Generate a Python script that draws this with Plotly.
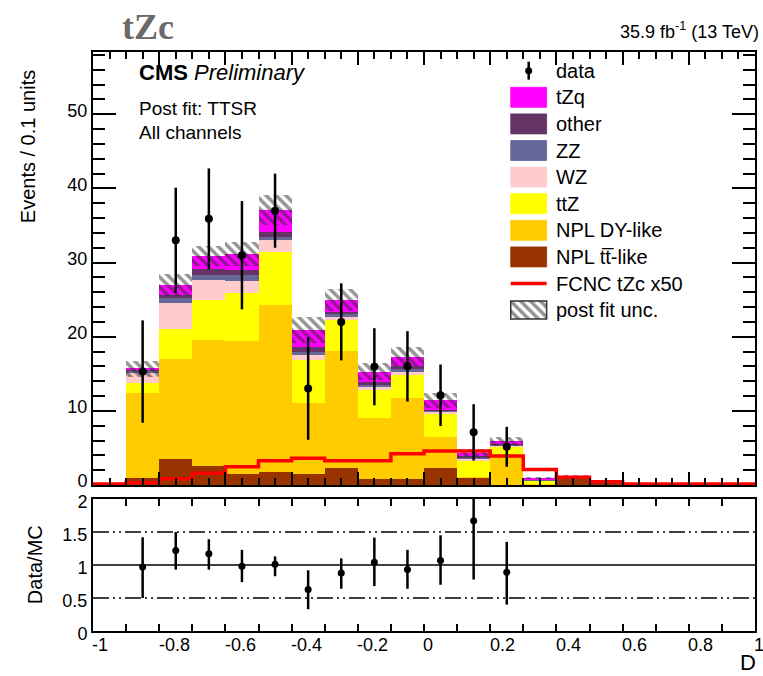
import numpy as np
import plotly.graph_objects as go

# ---------------- data ----------------
bin_edges = [-1.0, -0.9, -0.8, -0.7, -0.6, -0.5, -0.4, -0.3, -0.2, -0.1, 0.0,
             0.1, 0.2, 0.3, 0.4, 0.5, 0.6, 0.7, 0.8, 0.9, 1.0]
bin_centers = [-0.95, -0.85, -0.75, -0.65, -0.55, -0.45, -0.35, -0.25, -0.15, -0.05,
               0.05, 0.15, 0.25, 0.35, 0.45, 0.55, 0.65, 0.75, 0.85, 0.95]

npl_tt = [0, 1.0, 3.45, 2.56, 1.5, 1.8, 1.5, 2.3, 0.8, 0.8, 2.25, 1.0, 0, 0, 0.9, 0.3, 0, 0, 0, 0]
npl_dy = [0, 11.4, 13.55, 16.94, 17.9, 22.5, 9.6, 15.8, 8.2, 11.0, 4.25, 0.1, 4.05, 0.1, 0, 0, 0, 0, 0, 0]
ttz = [0, 1.3, 4.1, 5.4, 6.5, 7.1, 5.75, 4.2, 3.8, 3.0, 3.15, 2.27, 1.15, 0.45, 0.05, 0, 0, 0, 0, 0]
wz = [0, 1.35, 3.4, 2.7, 1.6, 1.6, 0.65, 0.4, 0.4, 0.5, 0.25, 0.23, 0.1, 0.1, 0, 0, 0, 0, 0, 0]
zz = [0, 0.35, 0.7, 0.7, 0.8, 0.5, 0.5, 0.3, 0.3, 0.3, 0.1, 0.15, 0.1, 0.05, 0, 0, 0, 0, 0, 0]
other = [0, 0.2, 0.4, 0.9, 0.7, 0.6, 0.6, 0.35, 0.4, 0.4, 0.1, 0.15, 0.1, 0.05, 0.1, 0, 0, 0, 0, 0]
tzq = [0, 0.05, 1.35, 1.7, 2.2, 3.0, 2.3, 1.65, 1.4, 1.3, 1.35, 0.4, 0.4, 0.15, 0, 0, 0, 0, 0, 0]
post_fit_unc = [0, 1.1, 1.5, 1.4, 1.6, 2.0, 1.8, 1.5, 1.1, 1.3, 1.0, 0.5, 0.6, 0.15, 0.25, 0.1, 0, 0, 0, 0]
fcnc_x50 = [0.13, 0.3, 0.85, 1.57, 2.47, 3.28, 3.6, 3.28, 3.28, 4.2, 4.6, 4.6, 3.9, 2.1, 1.05, 0.45,
            0.13, 0.13, 0.13, 0.13]

data_x = [-0.85, -0.75, -0.65, -0.55, -0.45, -0.35, -0.25, -0.15, -0.05, 0.05, 0.15, 0.25]
data_y = [15.3, 33.0, 35.9, 31.0, 37.0, 13.0, 22.0, 15.95, 16.0, 12.1, 7.1, 5.15]
data_err = [6.9, 7.1, 6.8, 7.3, 5.0, 6.9, 5.2, 5.2, 4.75, 4.15, 3.8, 2.7]

ratio_y = [0.97, 1.22, 1.17, 0.98, 1.01, 0.63, 0.88, 1.04, 0.93, 1.07, 1.67, 0.89]
ratio_err_up = [0.45, 0.28, 0.22, 0.25, 0.12, 0.29, 0.22, 0.375, 0.30, 0.38, 0.9, 0.46]
ratio_err_dn = [0.47, 0.29, 0.24, 0.24, 0.18, 0.30, 0.24, 0.36, 0.29, 0.37, 0.89, 0.49]

x_tick_vals = [-1, -0.8, -0.6, -0.4, -0.2, 0, 0.2, 0.4, 0.6, 0.8, 1]
x_tick_text = ["-1", "-0.8", "-0.6", "-0.4", "-0.2", "0", "0.2", "0.4", "0.6", "0.8", "1"]
ratio_tick_vals = [0, 0.5, 1, 1.5, 2]
ratio_tick_text = ["0", "0.5", "1", "1.5", "2"]

# stack order bottom -> top
stack_names = ["NPL tt\u0305-like", "NPL DY-like", "ttZ", "WZ", "ZZ", "other", "tZq"]
stack_values = [npl_tt, npl_dy, ttz, wz, zz, other, tzq]
stack_colors = ["#993300", "#ffcc00", "#ffff00", "#ffcccc", "#666699", "#663366", "#ff00ff"]

legend_labels = ["data", "tZq", "other", "ZZ", "WZ", "ttZ", "NPL DY-like", "NPL tt\u0305-like",
                 "FCNC tZc x50", "post fit unc."]
legend_kinds = ["data", "box", "box", "box", "box", "box", "box", "box", "line", "hatch"]
legend_colors = ["black", "#ff00ff", "#663366", "#666699", "#ffcccc", "#ffff00", "#ffcc00",
                 "#993300", "#ff0000", "#333333"]

# ---------------- geometry (pixels) ----------------
W, H = 763, 676
PL, PR, PT, PB = 93, 757, 52, 631
MAIN_BOTTOM = 485
RATIO_TOP = 499
FONT = "Liberation Sans, Arial, Helvetica, sans-serif"


def fx(px):
    return (px - PL) / (PR - PL)


def fy(py):
    return (PB - py) / (PB - PT)


fig = go.Figure()

# stacked histogram (overlay with explicit bases)
base = np.zeros(len(bin_centers))
for name, vals, col in zip(stack_names, stack_values, stack_colors):
    v = np.array(vals, dtype=float)
    fig.add_trace(go.Bar(x=bin_centers, y=v, base=base.copy(), width=0.1, name=name,
                         marker=dict(color=col, line=dict(width=0)),
                         xaxis="x", yaxis="y", showlegend=False, hoverinfo="skip"))
    base = base + v
total = base
unc = np.array(post_fit_unc, dtype=float)

hatch_pattern = dict(shape="\\", fgcolor="#2a2a2a", bgcolor="rgba(0,0,0,0)", size=7,
                     solidity=0.5, fillmode="overlay")
fig.add_trace(go.Bar(x=bin_centers, y=2 * unc, base=total - unc, width=0.1,
                     marker=dict(color="rgba(0,0,0,0)", line=dict(width=0), pattern=hatch_pattern),
                     xaxis="x", yaxis="y", showlegend=False, hoverinfo="skip"))

# FCNC signal step line
fig.add_trace(go.Scatter(x=bin_edges, y=fcnc_x50 + [fcnc_x50[-1]], mode="lines",
                         line=dict(color="#ff0000", width=3.5, shape="hv"),
                         xaxis="x", yaxis="y", showlegend=False, hoverinfo="skip"))

# data
fig.add_trace(go.Scatter(x=data_x, y=data_y, mode="markers",
                         marker=dict(color="black", size=8),
                         error_y=dict(type="data", array=data_err, color="black", thickness=2.5, width=0),
                         xaxis="x", yaxis="y", showlegend=False))

# ratio
fig.add_trace(go.Scatter(x=data_x, y=ratio_y, mode="markers",
                         marker=dict(color="black", size=7),
                         error_y=dict(type="data", array=ratio_err_up, arrayminus=ratio_err_dn,
                                      color="black", thickness=2.5, width=0),
                         xaxis="x2", yaxis="y2", showlegend=False))

# legend hatch swatch (inset axis)
fig.add_trace(go.Bar(x=[0], y=[1], width=[1],
                     marker=dict(color="rgba(0,0,0,0)", line=dict(width=0), pattern=hatch_pattern),
                     xaxis="x3", yaxis="y3", showlegend=False, hoverinfo="skip"))

main_dom = [fy(MAIN_BOTTOM), 1.0]
ratio_dom = [0.0, fy(RATIO_TOP)]

axis_common = dict(showline=True, linecolor="black", linewidth=2, mirror="ticks",
                   ticks="inside", tickcolor="black", tickwidth=1.5, showgrid=False,
                   zeroline=False, tickfont=dict(family=FONT, size=19, color="black"))

# legend entries
leg_y0, leg_dy = 70.7, 26.6
box_x0, box_x1, text_x = 512, 548, 555
hatch_box = None
shapes = []
annotations = []
for i, (lab, kind, col) in enumerate(zip(legend_labels, legend_kinds, legend_colors)):
    yc = leg_y0 + i * leg_dy
    annotations.append(dict(x=fx(text_x), y=fy(yc), xref="paper", yref="paper", text=lab,
                            xanchor="left", yanchor="middle", showarrow=False,
                            font=dict(family=FONT, size=20, color="black")))
    if kind == "box":
        shapes.append(dict(type="rect", xref="paper", yref="paper", x0=fx(box_x0), x1=fx(box_x1),
                           y0=fy(yc + 10), y1=fy(yc - 10), fillcolor=col,
                           line=dict(width=0.8, color=col)))
    elif kind == "line":
        shapes.append(dict(type="line", xref="paper", yref="paper", x0=fx(box_x0), x1=fx(box_x1),
                           y0=fy(yc), y1=fy(yc), line=dict(color=col, width=3.5)))
    elif kind == "data":
        cx = (box_x0 + box_x1) / 2
        shapes.append(dict(type="line", xref="paper", yref="paper", x0=fx(cx), x1=fx(cx),
                           y0=fy(yc - 9), y1=fy(yc + 9), line=dict(color=col, width=2.5)))
        shapes.append(dict(type="circle", xref="paper", yref="paper", x0=fx(cx - 3.5), x1=fx(cx + 3.5),
                           y0=fy(yc + 3.5), y1=fy(yc - 3.5), fillcolor=col, line=dict(width=0)))
    elif kind == "hatch":
        hatch_box = (yc - 9, yc + 9)
        shapes.append(dict(type="rect", xref="paper", yref="paper", x0=fx(box_x0), x1=fx(box_x1),
                           y0=fy(yc + 9), y1=fy(yc - 9), fillcolor="rgba(0,0,0,0)",
                           line=dict(width=1.5, color=col)))

# ratio reference lines
dashdot = "16px,4px,2px,4px,2px,4px"
for yv, dash in [(0.5, dashdot), (1.0, "solid"), (1.5, dashdot)]:
    shapes.append(dict(type="line", xref="x2", yref="y2", x0=-1, x1=1, y0=yv, y1=yv,
                       layer="below", line=dict(color="black", width=1.6, dash=dash)))

# x tick labels of the ratio panel (left-aligned at the tick, as in the reference)
for v, t in zip(x_tick_vals, x_tick_text):
    annotations.append(dict(x=fx(PL + (v + 1) / 2 * (PR - PL)) - 0.004, y=fy(645), xref="paper", yref="paper",
                            text=t, xanchor="left", yanchor="middle", showarrow=False,
                            font=dict(family=FONT, size=18, color="black")))

annotations += [
    dict(x=fx(148), y=fy(27), xref="paper", yref="paper", text="<b>tZc</b>", showarrow=False,
         xanchor="center", yanchor="middle",
         font=dict(family="Liberation Serif, Times New Roman, serif", size=36, color="#6a6a6a")),
    dict(x=fx(763), y=fy(30), xref="paper", yref="paper", text="35.9 fb<sup>-1</sup> (13 TeV)",
         showarrow=False, xanchor="right", yanchor="middle", font=dict(family=FONT, size=18, color="black")),
    dict(x=fx(137), y=fy(72), xref="paper", yref="paper", text="<b>CMS</b> <i>Preliminary</i>",
         showarrow=False, xanchor="left", yanchor="middle", font=dict(family=FONT, size=22, color="black")),
    dict(x=fx(137), y=fy(108), xref="paper", yref="paper", text="Post fit: TTSR",
         showarrow=False, xanchor="left", yanchor="middle", font=dict(family=FONT, size=19, color="black")),
    dict(x=fx(137), y=fy(132), xref="paper", yref="paper", text="All channels",
         showarrow=False, xanchor="left", yanchor="middle", font=dict(family=FONT, size=19, color="black")),
    dict(x=fx(28), y=fy(147), xref="paper", yref="paper", text="Events / 0.1 units", textangle=-90,
         showarrow=False, xanchor="center", yanchor="middle", font=dict(family=FONT, size=20, color="black")),
    dict(x=fx(35), y=fy(565), xref="paper", yref="paper", text="Data/MC", textangle=-90,
         showarrow=False, xanchor="center", yanchor="middle", font=dict(family=FONT, size=20, color="black")),
    dict(x=fx(760), y=fy(662), xref="paper", yref="paper", text="D",
         showarrow=False, xanchor="right", yanchor="middle", font=dict(family=FONT, size=22, color="black")),
]

fig.update_layout(
    width=W, height=H, autosize=False,
    margin=dict(l=PL, r=W - PR, t=PT, b=H - PB, pad=0),
    paper_bgcolor="white", plot_bgcolor="white",
    barmode="overlay", bargap=0,
    showlegend=False,
    xaxis=dict(domain=[0, 1], anchor="y", range=[-1, 1], tick0=-1, dtick=0.2, ticklen=13,
               showticklabels=False,
               minor=dict(ticks="inside", dtick=0.05, tick0=-1, ticklen=7, tickcolor="black", tickwidth=1.5),
               **axis_common),
    yaxis=dict(domain=main_dom, anchor="x", range=[0, 58.4], tick0=0, dtick=10, ticklen=23,
               ticklabelshift=-4,
               minor=dict(ticks="inside", dtick=2, tick0=0, ticklen=12, tickcolor="black", tickwidth=1.5),
               **{**axis_common, "tickfont": dict(family=FONT, size=18, color="black")}),
    xaxis2=dict(domain=[0, 1], anchor="y2", range=[-1, 1], matches="x", tick0=-1, dtick=0.1, ticklen=7,
                showticklabels=False, **axis_common),
    yaxis2=dict(domain=ratio_dom, anchor="x2", range=[0, 2], tickvals=ratio_tick_vals,
                ticktext=ratio_tick_text, ticklabelshift=3,
                **{**axis_common, "ticks": "", "tickfont": dict(family=FONT, size=18, color="black")}),
    xaxis3=dict(domain=[fx(box_x0), fx(box_x1)], anchor="y3", range=[-0.5, 0.5], visible=False, fixedrange=True),
    yaxis3=dict(domain=[fy(hatch_box[1]), fy(hatch_box[0])], anchor="x3", range=[0, 1], visible=False,
                fixedrange=True),
    shapes=shapes,
    annotations=annotations,
)

fig.write_html("out.html")
